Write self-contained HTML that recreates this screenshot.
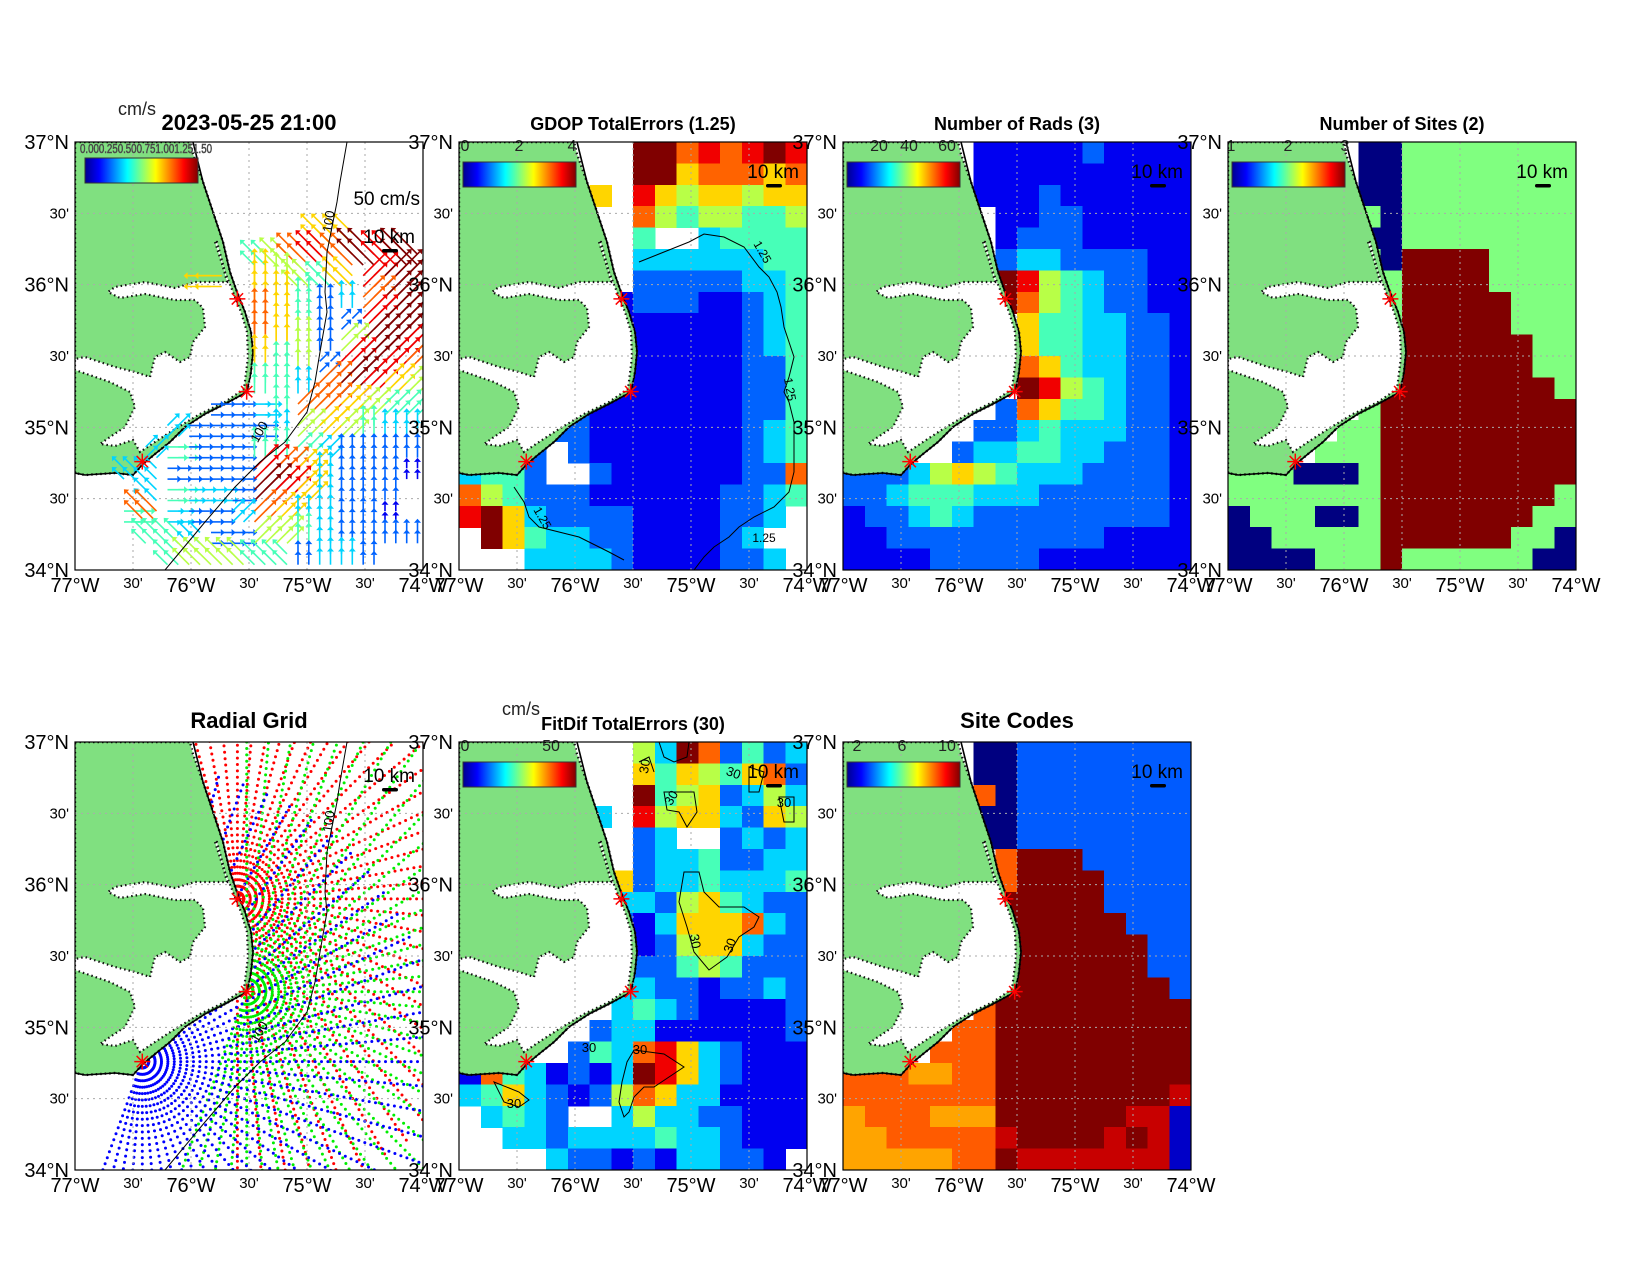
<!DOCTYPE html>
<html><head><meta charset="utf-8"><title>HF radar total diagnostics</title>
<style>
html,body{margin:0;padding:0;background:#fff;}
svg{display:block;font-family:"Liberation Sans",Arial,sans-serif;}
</style></head>
<body>
<svg id="fig" width="1650" height="1275" viewBox="0 0 1650 1275" xmlns="http://www.w3.org/2000/svg">
<defs>
<linearGradient id="jetg" x1="0" x2="1" y1="0" y2="0">
<stop offset="0" stop-color="#00008f"/><stop offset="0.125" stop-color="#0000ff"/><stop offset="0.375" stop-color="#00ffff"/><stop offset="0.625" stop-color="#ffff00"/><stop offset="0.875" stop-color="#ff0000"/><stop offset="1" stop-color="#800000"/>
</linearGradient>
</defs>
</svg>
<script>
// ---- data (16 cols x 20 rows each, '.' = no data; values are hex digits) ----
const gdopRows=["........99787898","........99677767","......6.86566566","........75455445","........4..34444","........33333344","........22222334",".......122211234",".......111111234",".......111111234",".......111111224",".......111111224","....221111111224","...2221111111234","...2.21111111234","3442..2111111227","7542221111112234","896322221111223.",".9643322111123..","...333321111223."];
const radsRows=["......1111121111","......1111111111","......1112111111",".......112211111",".......122211111",".......233222211",".......985432211",".......975432211","........64433221","........64433221","........76433221","........98543221",".......276443221","......2234333221",".....23344332221","2223565433322221","2234443332222221","1223432222222221","1122222222221111","1111222221111111"];
const sitesRows=["......1122222222","......1122222222","......1122222222","......2122222222","......1122222222","......2133332222","......2233332222",".......233333222",".......233333222",".......233333322",".......233333322",".......333333332","......2333333333",".....22333333333","....222333333333","2221112333333333","2222222333333332","1222112333333322","1122222333333221","1111222322222211"];
const fitdifRows=["........53972423","........64654672","........94562353","......3.85663265","........23..2323","........23342233",".......623343334",".......332564322",".......213666732",".......212566322",".......322454222",".......332212232",".......343211112","......2331111112",".....24378632111","1743121398632111","3463212576331111",".3432..353322111","..33233334332111","....32212133221."];
const codesRows=["......0033333333","......0033333333","......b033333333","......0033333333","......0033333333",".......beee33333",".......beeee3333",".......eeeee3333",".......eeeeee333",".......eeeeeee33",".......eeeeeee33",".......eeeeeeee3","......beeeeeeeee",".....bbeeeeeeeee","....bbbeeeeeeeee","bbbaabbeeeeeeeee","bbbbbbbeeeeeeeed","abbbaaaeeeeeedd1","aabbbbbdeeeeded1","aaaaabbeddddddd1"];
const speedRows=["................","................","................","................","...........66...","........45787989","......6.65546899","........66423799","........76422899","........76525998","........64528987","........44379865","......2234776544","....322223565433","...3422244432222","..33222287632221","...3433298632221","..4732237633221.","...4432255432222","....4555442332.."];
const dirRows=["................","................","................","................","...........cc...","........cccccccc","......d.bbcccaaa","........bbbbbaaa","........bbbbaaaa","........bbbbaaaa","........bbbaaaaa","........bbbaaaaa","......hhhbaaaaaa","....ahhhhbaaabbb","...ahhhhbbaabbbb","..cchhhhaaabbbbb","...chhhhaaabbbb.","..hchhhaaabbbbb.","...ccchhaabbbbbb","....ccccccbbbb.."];
const dirAngles={a:45,b:0,c:-45,d:-90,h:90};
const radialSites=[{lon:-75.6,lat:35.9,b0:-70,b1:180,color:"#ff0000"},{lon:-75.52,lat:35.25,b0:0,b1:200,color:"#00ee00"},{lon:-76.42,lat:34.76,b0:-30,b1:200,color:"#0000ff"}];
const siteLon=[-75.6,-75.52,-76.42];
const siteLat=[35.9,35.25,34.76];
const lonTicks=[-77,-76.5,-76,-75.5,-75,-74.5,-74];
const lonLabels=["77°W","30'","76°W","30'","75°W","30'","74°W"];
const latTicks=[37,36.5,36,35.5,35,34.5,34];
const latLabels=["37°N","30'","36°N","30'","35°N","30'","34°N"];

const PW=348,PH=428,NS="http://www.w3.org/2000/svg";
const svg=document.getElementById('fig');
function X(lon){return (lon+77)/3*PW;}
function Y(lat){return (37-lat)/3*PH;}
function mk(tag,parent){const e=document.createElementNS(NS,tag);parent.appendChild(e);return e;}
function A(e,o){for(const k in o)e.setAttribute(k,o[k]);return e;}
function jet(t){t=Math.max(0,Math.min(1,t));const c=v=>Math.round(255*Math.max(0,Math.min(1,v)));
 return `rgb(${c(Math.min(4*t-1.5,-4*t+4.5))},${c(Math.min(4*t-0.5,-4*t+3.5))},${c(Math.min(4*t+0.5,-4*t+2.5))})`;}

const landPts="0,0 115,0 118,12 128,40 138,70 148,100 155,130 162,150 170,170 176,190 178,210 176,230 172,250 150,262 130,272 110,285 95,300 80,312 68,322 58,333 40,331 10,333 0,331";
const soundPts="140,100 148,125 152,140 120,140 100,146 70,140 40,145 33,150 45,156 70,152 100,158 120,158 128,166 130,185 118,200 115,215 105,220 90,210 80,215 75,235 60,230 40,225 10,215 0,217 0,228 35,240 55,250 60,265 50,285 35,295 25,302 40,304 58,298 65,310 80,300 100,287 125,272 150,260 169,247 173,215 172,190 166,170 158,150 150,130 142,100";
const coastPath="M118,0 L128,40 L138,70 L148,100 L155,130 L162,150 L170,170 L176,190 L178,210 L176,230 L172,250 L150,262 L130,272 L110,285 L95,300 L80,312 L68,322 L58,333 L40,331 L10,333 L0,331";
const depthPath="M272,0 L265,40 L262,60 L258,80 L252,110 L250,150 L252,170 L245,210 L240,240 L232,270 L210,300 L185,320 L160,345 L130,380 L105,410 L90,428";

const panels=[
 {x:75,y:142,title:"2023-05-25 21:00",ts:22,kind:"vec"},
 {x:459,y:142,title:"GDOP TotalErrors (1.25)",ts:18,kind:"heat",rows:gdopRows,vmin:0,vmax:9,cb:[["0",6],["2",60],["4",113]]},
 {x:843,y:142,title:"Number of Rads (3)",ts:18,kind:"heat",rows:radsRows,vmin:0,vmax:9,cb:[["20",36],["40",66],["60",104]]},
 {x:1228,y:142,title:"Number of Sites (2)",ts:18,kind:"heat",rows:sitesRows,vmin:1,vmax:3,cb:[["1",3],["2",60],["3",117]]},
 {x:75,y:742,title:"Radial Grid",ts:22,kind:"radial"},
 {x:459,y:742,title:"FitDif TotalErrors (30)",ts:18,kind:"heat",rows:fitdifRows,vmin:0,vmax:9,cb:[["0",6],["50",92]]},
 {x:843,y:742,title:"Site Codes",ts:22,kind:"heat",rows:codesRows,vmin:0,vmax:14,cb:[["2",14],["6",59],["10",104]]}
];

panels.forEach((p,pi)=>{
 const g=mk('g',svg);A(g,{transform:`translate(${p.x},${p.y})`});
 
 
 const cp=mk('clipPath',g);A(cp,{id:'cp'+pi});A(mk('rect',cp),{x:0,y:0,width:PW,height:PH});
 const inner=mk('g',g);A(inner,{'clip-path':`url(#cp${pi})`});
 const bg=mk('rect',inner);A(bg,{x:0,y:0,width:PW,height:PH,fill:'#fff'});
 
 
 if(p.kind==='heat'){
  const hg=mk('g',inner);A(hg,{'shape-rendering':'crispEdges'});
  
  
  const nr=p.rows.length,nc=p.rows[0].length,cw=PW/nc,ch=PH/nr;
  p.rows.forEach((row,r)=>{for(let c=0;c<nc;c++){const chv=row[c];if(chv==='.')continue;
   const v=parseInt(chv,16);
   const rc=mk('rect',hg);A(rc,{x:(c*cw).toFixed(2),y:(r*ch).toFixed(2),width:(cw+0.6).toFixed(2),height:(ch+0.6).toFixed(2),fill:jet((v-p.vmin)/(p.vmax-p.vmin))});
   
   }});
 }
 if(p.kind==='radial'){
  const rg=mk('g',inner);
  
  
  const kmpx=1.28;
  radialSites.forEach(s=>{const sx=X(s.lon),sy=Y(s.lat);
   for(let b=s.b0;b<=s.b1;b+=5){const br=b*Math.PI/180;
    for(let k=1;k<=46;k++){const rr=k*5*kmpx;const x=sx+Math.sin(br)*rr,y=sy-Math.cos(br)*rr;
     if(x<-2||x>PW+2||y<-2||y>PH+2)continue;
     const d=mk('circle',rg);A(d,{cx:x.toFixed(1),cy:y.toFixed(1),r:1.5,fill:s.color});
     
     }}});
 }
 // land
 const land=mk('polygon',inner);A(land,{points:landPts,fill:'#80e080',stroke:'#111','stroke-width':2.4,'stroke-dasharray':'1.5 3'});
 
 
 const snd=mk('polygon',inner);A(snd,{points:soundPts,fill:'#fff',stroke:'#111','stroke-width':2.2,'stroke-dasharray':'1.5 3'});
 
 
 const cst=mk('path',inner);A(cst,{d:coastPath,fill:'none',stroke:'#000','stroke-width':1.6});
 
 
 // grid
 for(let i=1;i<6;i++){
  const gl=mk('line',inner);A(gl,{x1:X(lonTicks[i]),x2:X(lonTicks[i]),y1:0,y2:PH,stroke:'#aaa','stroke-width':1,'stroke-dasharray':'2 4'});
  
  
  const gh=mk('line',inner);A(gh,{y1:Y(latTicks[i]),y2:Y(latTicks[i]),x1:0,x2:PW,stroke:'#aaa','stroke-width':1,'stroke-dasharray':'2 4'});
  
  
 }
 if(p.kind==='vec'){
  const vg=mk('g',inner);
  
  
  const cw=PW/16,ch=PH/20;
  speedRows.forEach((row,r)=>{for(let c=0;c<16;c++){const s=row[c],d=dirRows[r][c];if(s==='.'||d==='.')continue;
   const sp=parseInt(s,10),ang=dirAngles[d]*Math.PI/180,col=jet(sp/9),L=3+sp*3.4;
   for(const ox of[-5.4,5.4])for(const oy of[-5.4,5.4]){
    const x0=(c+0.5)*cw+ox,y0=(r+0.5)*ch+oy,dx=Math.sin(ang),dy=-Math.cos(ang);
    const x1=x0+dx*L,y1=y0+dy*L;
    const ln=mk('line',vg);A(ln,{x1:x0.toFixed(1),y1:y0.toFixed(1),x2:x1.toFixed(1),y2:y1.toFixed(1),stroke:col,'stroke-width':1.6});
    
    
    const hx=x1+dx*4,hy=y1+dy*4,px=-dy*3.5,py=dx*3.5;
    const hd=mk('polygon',vg);A(hd,{points:`${hx.toFixed(1)},${hy.toFixed(1)} ${(x1+px).toFixed(1)},${(y1+py).toFixed(1)} ${(x1-px).toFixed(1)},${(y1-py).toFixed(1)}`,fill:col});
    
    
   }}});
 }
 if(p.kind==='vec'||p.kind==='radial'){
  const dp=mk('path',inner);A(dp,{d:depthPath,fill:'none',stroke:'#000','stroke-width':1});
  
  
  [[258,80,-82],[188,292,-60]].forEach(l=>{const t=mk('text',inner);A(t,{x:l[0],y:l[1],'font-size':13,'text-anchor':'middle',transform:`rotate(${l[2]} ${l[0]} ${l[1]})`});t.textContent='100';
   
   });
 }
 if(pi===1){
  const cpth=mk('path',inner);A(cpth,{d:"M180,120 L200,112 L230,100 L245,92 L265,95 L285,105 L300,125 L310,135 L318,150 L322,165 L325,185 L330,200 L335,215 L330,235 L325,250 L330,260 L335,280 L335,330 L330,350 L315,365 L295,375 L280,385 L270,395 L255,405 L245,415 L235,428 M55,345 L65,360 L70,375 L80,385 L100,390 L120,395 L130,400 L150,410 L165,418",fill:'none',stroke:'#000','stroke-width':1});
  
  
  [[300,112,60],[327,248,80],[305,400,0],[80,378,60]].forEach(l=>{const t=mk('text',inner);A(t,{x:l[0],y:l[1],'font-size':12,'text-anchor':'middle',transform:`rotate(${l[2]} ${l[0]} ${l[1]})`});t.textContent='1.25';
   
   });
 }
 if(pi===5){
  const cpth=mk('path',inner);A(cpth,{d:"M225,130 L240,130 L245,150 L260,165 L285,165 L300,175 L295,185 L280,195 L268,215 L250,228 L235,210 L228,185 L220,160 Z M175,308 L205,312 L225,325 L210,335 L195,345 L185,345 L175,355 L170,370 L165,375 L160,360 L163,340 L168,320 Z M200,0 L230,0 L228,15 L215,20 L205,15 Z M205,50 L235,50 L238,70 L228,85 L220,70 L208,68 Z M290,25 L305,30 L300,50 L290,50 Z M320,55 L335,55 L335,80 L325,80 Z M35,340 L60,350 L70,358 L60,365 L45,360 Z M180,20 L190,15 L195,30",fill:'none',stroke:'#000','stroke-width':1});
  
  
  [[232,200,80],[275,205,-70],[181,312,0],[55,366,0],[130,310,0],[216,58,-60],[190,25,-80],[273,35,20],[325,65,0]].forEach(l=>{const t=mk('text',inner);A(t,{x:l[0],y:l[1],'font-size':13,'text-anchor':'middle',transform:`rotate(${l[2]} ${l[0]} ${l[1]})`});t.textContent='30';
   
   });
 }
 // site stars
 siteLon.forEach((lo,i)=>{const sx=X(lo),sy=Y(siteLat[i]);const st=mk('g',inner);
  
  
  for(const a of[0,45,90,135]){const r=a*Math.PI/180;A(mk('line',st),{x1:sx-Math.cos(r)*8,y1:sy-Math.sin(r)*8,x2:sx+Math.cos(r)*8,y2:sy+Math.sin(r)*8,stroke:'#f00','stroke-width':1.5});}});
 // colorbar
 if(p.kind!=='radial'){
  const cbx=pi===0?10:4,cby=pi===0?16:20,cbw=113;
  const cb=mk('rect',g);A(cb,{x:cbx,y:cby,width:cbw,height:25,fill:'url(#jetg)',stroke:'#333','stroke-width':1});
  
  
  if(p.cb)p.cb.forEach(t=>{const tx=mk('text',g);A(tx,{x:t[1],y:9,'font-size':16,'text-anchor':'middle',fill:'#222'});tx.textContent=t[0];
   
   });
 }
 // scale
 const skY=pi===0?101:(pi===4?40:36);
 const sk=mk('text',g);A(sk,{x:340,y:skY,'font-size':19,'text-anchor':'end'});sk.textContent='10 km';
 
 
 const sb=mk('rect',g);A(sb,{x:307,y:skY+6,width:16,height:3.5,rx:1.7,fill:'#000'});
 
 
 if(pi===0){const vs=mk('text',g);A(vs,{x:345,y:63,'font-size':19,'text-anchor':'end'});vs.textContent='50 cm/s';
  
  }
 // border
 const bd=mk('rect',g);A(bd,{x:0,y:0,width:PW,height:PH,fill:'none',stroke:'#000','stroke-width':1.2});
 
 
 // tick labels
 latTicks.forEach((lt,i)=>{const big=i%2===0;const t=mk('text',g);A(t,{x:-6,y:Y(lt)+(big?7:5),'font-size':big?20:15,'text-anchor':'end'});t.textContent=latLabels[i];
  
  });
 lonTicks.forEach((ln,i)=>{const big=i%2===0;const t=mk('text',g);A(t,{x:X(ln),y:PH+(big?22:18),'font-size':big?20:15,'text-anchor':'middle'});t.textContent=lonLabels[i];
  
  });
 // title
 const tt=mk('text',g);A(tt,{x:PW/2,y:p.ts===22?(pi===0?-12:-14):-12,'font-size':p.ts,'font-weight':'bold','text-anchor':'middle'});tt.textContent=p.title;
 
 
 if(pi===0||pi===5){const u=mk('text',g);A(u,{x:43,y:-27,'font-size':18,fill:'#222'});u.textContent='cm/s';
  
  }
 if(pi===0){const o=mk('text',g);A(o,{x:5,y:11,'font-size':13,fill:'#333',stroke:'#555','stroke-width':0.6,textLength:132,lengthAdjust:'spacingAndGlyphs'});o.textContent='0.000.250.500.751.001.251.50';
  
  }
});
</script>
</body></html>
